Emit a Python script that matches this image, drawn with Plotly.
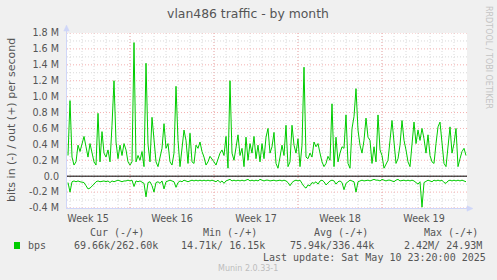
import plotly.graph_objects as go
import pandas as pd

# ---------------- data ----------------
times = pd.date_range("2025-04-07 20:00", periods=200, freq="4h")

# out (+) traffic, Mbit/s
out_mbps = [
    0.26, 0.95, 0.24, 0.14, 0.18, 0.39, 0.31, 0.41, 0.50, 0.37,
    0.24, 0.41, 0.31, 0.18, 0.14, 0.79, 0.18, 0.56, 0.29, 0.24,
    0.33, 0.18, 0.64, 1.20, 0.43, 0.22, 0.39, 0.26, 0.41, 0.33,
    0.18, 0.14, 0.18, 1.68, 0.18, 0.26, 0.20, 0.31, 0.12, 1.42,
    0.40, 0.18, 0.74, 0.45, 0.18, 0.12, 0.22, 0.35, 0.66, 0.35,
    0.41, 0.18, 0.14, 0.29, 1.13, 0.45, 0.12, 0.35, 0.58, 0.45,
    0.16, 0.54, 0.18, 0.16, 0.39, 0.35, 0.43, 0.31, 0.24, 0.14,
    0.18, 0.25, 0.22, 0.18, 0.14, 0.22, 0.29, 0.33, 0.26, 0.50,
    0.10, 1.20, 0.29, 0.20, 0.39, 0.52, 0.26, 0.35, 0.12, 0.49,
    0.20, 0.41, 0.29, 0.50, 0.22, 0.39, 0.18, 0.41, 0.22, 0.49,
    0.60, 0.29, 0.37, 0.55, 0.16, 0.10, 0.24, 0.39, 0.26, 0.64,
    0.12, 0.18, 0.64, 0.39, 0.29, 0.47, 0.12, 0.39, 1.37, 0.24,
    0.22, 0.29, 0.24, 0.43, 0.37, 0.41, 0.29, 0.18, 0.12, 0.16,
    0.25, 0.20, 0.91, 0.12, 0.49, 0.18, 0.29, 0.37, 0.35, 0.77,
    0.16, 0.10, 0.60, 0.75, 1.10, 0.58, 0.39, 0.29, 0.45, 0.73,
    0.49, 0.45, 0.16, 0.37, 0.18, 0.77, 0.33, 0.26, 0.10, 0.16,
    0.20, 0.45, 0.70, 0.43, 0.16, 0.22, 0.39, 0.70, 0.45, 0.33,
    0.18, 0.12, 0.37, 0.68, 0.41, 0.58, 0.45, 0.60, 0.47, 0.29,
    0.52, 0.26, 0.18, 0.16, 0.41, 0.62, 0.68, 0.45, 0.16, 0.12,
    0.39, 0.62, 0.29, 0.41, 0.60, 0.12, 0.22, 0.31, 0.35, 0.26,
]

# in (-) traffic, Mbit/s (drawn below zero)
in_mbps = [
    0.08, 0.20, 0.07, 0.06, 0.07, 0.06, 0.07, 0.08, 0.08, 0.12,
    0.16, 0.15, 0.13, 0.10, 0.07, 0.06, 0.07, 0.06, 0.06, 0.07,
    0.06, 0.08, 0.06, 0.07, 0.06, 0.05, 0.06, 0.07, 0.06, 0.06,
    0.05, 0.06, 0.05, 0.13, 0.06, 0.07, 0.06, 0.08, 0.09, 0.26,
    0.08, 0.07, 0.12, 0.20, 0.08, 0.07, 0.09, 0.06, 0.16, 0.07,
    0.06, 0.05, 0.06, 0.07, 0.14, 0.08, 0.06, 0.07, 0.05, 0.06,
    0.07, 0.06, 0.05, 0.06, 0.05, 0.06, 0.05, 0.06, 0.05, 0.06,
    0.05, 0.06, 0.05, 0.06, 0.07, 0.05, 0.08, 0.06, 0.09, 0.06,
    0.05, 0.04, 0.06, 0.05, 0.06, 0.05, 0.06, 0.05, 0.06, 0.05,
    0.04, 0.06, 0.05, 0.06, 0.05, 0.06, 0.04, 0.05, 0.06, 0.05,
    0.05, 0.06, 0.05, 0.05, 0.06, 0.05, 0.05, 0.06, 0.05, 0.06,
    0.08, 0.12, 0.08, 0.06, 0.05, 0.06, 0.05, 0.09, 0.13, 0.15,
    0.11, 0.12, 0.08, 0.09, 0.07, 0.10, 0.06, 0.05, 0.07, 0.11,
    0.08, 0.06, 0.05, 0.06, 0.10, 0.07, 0.06, 0.08, 0.17, 0.09,
    0.07, 0.05, 0.06, 0.07, 0.20, 0.07, 0.06, 0.05, 0.06, 0.05,
    0.05, 0.06, 0.05, 0.04, 0.05, 0.05, 0.06, 0.04, 0.05, 0.06,
    0.05, 0.05, 0.06, 0.07, 0.05, 0.04, 0.06, 0.05, 0.05, 0.06,
    0.05, 0.06, 0.05, 0.06, 0.08, 0.10, 0.07, 0.39, 0.08, 0.06,
    0.05, 0.06, 0.07, 0.05, 0.06, 0.05, 0.06, 0.05, 0.08, 0.09,
    0.06, 0.05, 0.06, 0.05, 0.06, 0.05, 0.06, 0.05, 0.06, 0.07,
]

week_labels = ["Week 15", "Week 16", "Week 17", "Week 18", "Week 19"]
week_label_pos = pd.to_datetime(["2025-04-09 12:00", "2025-04-16 12:00", "2025-04-23 12:00",
                                 "2025-04-30 12:00", "2025-05-07 12:00"])
week_starts = pd.to_datetime(["2025-04-13", "2025-04-20", "2025-04-27", "2025-05-04"])
days = pd.date_range("2025-04-08", "2025-05-10", freq="D")

y_ticks = [-0.4, -0.2, 0.0, 0.2, 0.4, 0.6, 0.8, 1.0, 1.2, 1.4, 1.6, 1.8]
y_ticktext = ["-0.4 M", "-0.2 M", "0.0", "0.2 M", "0.4 M", "0.6 M", "0.8 M",
              "1.0 M", "1.2 M", "1.4 M", "1.6 M", "1.8 M"]
y_minor = [-0.3, -0.1, 0.1, 0.3, 0.5, 0.7, 0.9, 1.1, 1.3, 1.5, 1.7]

series_name = "bps"
col_headers = ["Cur (-/+)", "Min (-/+)", "Avg (-/+)", "Max (-/+)"]
col_values = ["69.66k/262.60k", "14.71k/ 16.15k", "75.94k/336.44k", "2.42M/ 24.93M"]
last_update = "Last update: Sat May 10 23:20:00 2025"

# ---------------- layout helpers ----------------
W, H = 497, 280
ML, MR, MT, MB = 67, 30, 33, 72
PW, PH = W - ML - MR, H - MT - MB


def px_x(px):
    return (px - ML) / PW


def px_y(py):
    return (H - MB - py) / PH


GREEN = "#00CC00"
FONT_C = "#555555"
AXIS_C = "#CFD6F8"
GRID_C = "#D9D9D9"
MGRID_C = "#F4B0B0"
SANS = "DejaVu Sans"
MONO = "DejaVu Sans Mono"

fig = go.Figure()
fig.add_trace(go.Scatter(x=times, y=out_mbps, mode="lines",
                         line=dict(color=GREEN, width=1), hoverinfo="skip"))
fig.add_trace(go.Scatter(x=times, y=[-v for v in in_mbps], mode="lines",
                         line=dict(color=GREEN, width=1), hoverinfo="skip"))

shapes = []
DOT = "1px,2px"
for yv in y_minor:
    shapes.append(dict(type="line", xref="paper", yref="y", x0=0, x1=1, y0=yv, y1=yv,
                       line=dict(color=GRID_C, width=1, dash=DOT), layer="below"))
for d in days:
    shapes.append(dict(type="line", xref="x", yref="paper", x0=d, x1=d, y0=0, y1=1,
                       line=dict(color=GRID_C, width=1, dash=DOT), layer="below"))
for yv in y_ticks:
    shapes.append(dict(type="line", xref="paper", yref="y", x0=0, x1=1, y0=yv, y1=yv,
                       line=dict(color=MGRID_C, width=1, dash=DOT), layer="below"))
for d in week_starts:
    shapes.append(dict(type="line", xref="x", yref="paper", x0=d, x1=d, y0=0, y1=1,
                       line=dict(color=MGRID_C, width=1, dash=DOT), layer="below"))
# zero line
shapes.append(dict(type="line", xref="paper", yref="y", x0=0, x1=1, y0=0, y1=0,
                   line=dict(color="#000000", width=1), layer="below"))
# axes with arrows
shapes.append(dict(type="line", xref="paper", yref="paper",
                   x0=px_x(66.5), x1=px_x(66.5), y0=px_y(208.5), y1=px_y(30),
                   line=dict(color=AXIS_C, width=1)))
shapes.append(dict(type="line", xref="paper", yref="paper",
                   x0=px_x(66), x1=px_x(469), y0=px_y(208.5), y1=px_y(208.5),
                   line=dict(color=AXIS_C, width=1)))
shapes.append(dict(type="path", xref="paper", yref="paper",
                   path=f"M {px_x(63.8)} {px_y(31)} L {px_x(69.2)} {px_y(31)} L {px_x(66.5)} {px_y(25)} Z",
                   fillcolor=AXIS_C, line=dict(color=AXIS_C, width=0.5)))
shapes.append(dict(type="path", xref="paper", yref="paper",
                   path=f"M {px_x(467)} {px_y(205.8)} L {px_x(467)} {px_y(211.2)} L {px_x(473)} {px_y(208.5)} Z",
                   fillcolor=AXIS_C, line=dict(color=AXIS_C, width=0.5)))
# legend swatch
shapes.append(dict(type="rect", xref="paper", yref="paper",
                   x0=px_x(14), x1=px_x(20), y0=px_y(249), y1=px_y(242),
                   fillcolor=GREEN, line=dict(width=0)))

ann = []


def text(s, x, y, size, color=FONT_C, family=SANS, xanchor="left", angle=0):
    ann.append(dict(text=s, x=px_x(x), y=px_y(y), xref="paper", yref="paper",
                    showarrow=False, xanchor=xanchor, yanchor="middle", textangle=angle,
                    font=dict(family=family, size=size, color=color), borderpad=0))


text("bits in (-) / out (+) per second", 11, 120, 11, xanchor="center", angle=-90)
text("RRDTOOL / TOBI OETIKER", 489, 57, 8, color="#C4C4C4", xanchor="center", angle=90)
text(series_name, 26.5, 245.5, 10, family=MONO)
hdr_x = [89, 201.7, 312.7, 423.3]
val_x = [72.7, 180, 289.3, 403.3]
for h, v, hx, vx in zip(col_headers, col_values, hdr_x, val_x):
    text(h, hx, 232.5, 10, family=MONO)
    text(v, vx, 245.5, 10, family=MONO)
text(last_update, 261.7, 257.5, 10, family=MONO)
text("Munin 2.0.33-1", 248, 268.5, 8, color="#BDBDBD", xanchor="center")

fig.update_layout(
    width=W, height=H,
    margin=dict(l=ML, r=MR, t=MT, b=MB, pad=0),
    paper_bgcolor="#F0F0F0", plot_bgcolor="#FFFFFF",
    showlegend=False,
    title=dict(text="vlan486 traffic - by month", x=248 / W, xref="paper" if False else "container",
               xanchor="center", y=1 - 13.5 / H, yanchor="middle",
               font=dict(family=SANS, size=12.4, color=FONT_C)),
    xaxis=dict(type="date", range=[pd.Timestamp("2025-04-07 18:00"), pd.Timestamp("2025-05-11 02:00")],
               tickmode="array", tickvals=week_label_pos, ticktext=week_labels,
               showgrid=False, zeroline=False, showline=False, ticks="",
               tickfont=dict(family=SANS, size=9.6, color=FONT_C), ticklabelstandoff=3),
    yaxis=dict(range=[-0.4, 1.8], tickmode="array", tickvals=y_ticks, ticktext=y_ticktext,
               showgrid=False, zeroline=False, showline=False, ticks="",
               tickfont=dict(family=SANS, size=9.6, color=FONT_C), ticklabelstandoff=7),
    shapes=shapes, annotations=ann,
)

fig.write_html("out.html")
